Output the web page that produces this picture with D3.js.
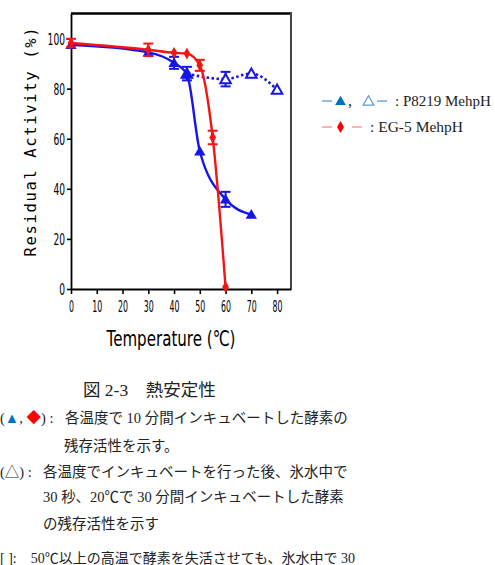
<!DOCTYPE html>
<html><head><meta charset="utf-8">
<script src="https://cdn.jsdelivr.net/npm/d3@7"></script>
<style>html,body{margin:0;padding:0;background:#fff;}svg{display:block;}</style>
</head><body>
<script>
// ---- data ----
const tempSolid = [0, 30, 40, 45, 50, 60, 70];
const actSolid  = [97.5, 94.5, 90.3, 85.8, 55, 35.8, 29.7];
const errSolid  = [0, 0, 2.4, 0, 0, 3, 0];

const tempOpen = [45, 60, 70, 80];
const actOpen  = [86, 83.8, 86, 79.6];
const errOpen  = [2.7, 2.9, 0, 0];

const tempRed = [0, 30, 40, 45, 50, 55, 60];
const actRed  = [98.2, 95.5, 94.3, 94, 89.3, 60.5, 0.8];
const errRed  = [1.7, 2.5, 0, 0, 2.2, 2.7, 0];

const xTicks = [0, 10, 20, 30, 40, 50, 60, 70, 80];
const yTicks = [0, 20, 40, 60, 80, 100];

const W = 495, H = 565;
const svg = d3.select("body").append("svg").attr("width", W).attr("height", H);

const x = d3.scaleLinear().domain([0, 85.4]).range([71, 291]);
const y = d3.scaleLinear().domain([0, 110]).range([289, 13.5]);

const BLUE = "#1616e6", RED = "#f41414";

// frame top & right
svg.append("line").attr("x1", x(0)).attr("x2", x(85.4)+1).attr("y1", 13.5).attr("y2", 13.5)
  .attr("stroke", "#000").attr("stroke-width", 2.5);
svg.append("line").attr("x1", x(85.4)).attr("x2", x(85.4)).attr("y1", 13).attr("y2", 289)
  .attr("stroke", "#444").attr("stroke-width", 2);

// axes
const gx = svg.append("g").attr("transform", `translate(0,${y(0)})`)
  .call(d3.axisBottom(x).tickValues(xTicks).tickSize(5).tickSizeOuter(0).tickFormat(d3.format("d")));
gx.select(".domain").attr("stroke-width", 2.2);
gx.selectAll(".tick line").attr("stroke-width", 1.6);
gx.selectAll("text").attr("y", 23).attr("dy", null)
  .attr("font-family", "DejaVu Sans").attr("font-size", 15.5).attr("fill", "#000")
  .attr("textLength", function(){ return this.textContent.length * 5; })
  .attr("lengthAdjust", "spacingAndGlyphs");

const gy = svg.append("g").attr("transform", `translate(${x(0)},0)`)
  .call(d3.axisLeft(y).tickValues(yTicks).tickSize(4).tickSizeOuter(0).tickFormat(d3.format("d")));
gy.select(".domain").attr("stroke-width", 1.8);
gy.selectAll(".tick line").attr("stroke-width", 1.6);
gy.selectAll("text").attr("x", -6).attr("dy", "0.36em")
  .attr("font-family", "DejaVu Sans").attr("font-size", 15.5).attr("fill", "#000")
  .attr("textLength", function(){ return this.textContent.length * 5.8; })
  .attr("lengthAdjust", "spacingAndGlyphs");

// axis titles
svg.append("text").attr("x", 171).attr("y", 346).attr("text-anchor", "middle")
  .attr("font-family", "DejaVu Sans").attr("font-size", 21.5)
  .attr("textLength", 129).attr("lengthAdjust", "spacingAndGlyphs")
  .text("Temperature (℃)");
svg.append("text").attr("transform", "translate(36,142) rotate(-90)").attr("text-anchor", "middle")
  .attr("font-family", "DejaVu Sans Mono").attr("font-size", 15.5)
  .attr("textLength", 229).attr("lengthAdjust", "spacing")
  .text("Residual Activity (%)");

// lines
const line = d3.line().x(d => x(d[0])).y(d => y(d[1])).curve(d3.curveMonotoneX);
const solidData = tempSolid.map((t, i) => [t, actSolid[i]]);
const openData  = tempOpen.map((t, i) => [t, actOpen[i]]);
const redData   = tempRed.map((t, i) => [t, actRed[i]]);

svg.append("path").datum(openData).attr("d", line).attr("fill", "none")
  .attr("stroke", BLUE).attr("stroke-width", 2.6).attr("stroke-dasharray", "2.5,2.5");
svg.append("path").datum(solidData).attr("d", line).attr("fill", "none")
  .attr("stroke", BLUE).attr("stroke-width", 2.4);

function errBars(temps, vals, errs, color) {
  const g = svg.append("g").attr("stroke", color).attr("stroke-width", 2).attr("fill", "none");
  temps.forEach((t, i) => {
    if (!errs[i]) return;
    const cx = x(t), y1 = y(vals[i] + errs[i]), y2 = y(vals[i] - errs[i]);
    g.append("line").attr("x1", cx).attr("x2", cx).attr("y1", y1).attr("y2", y2);
    g.append("line").attr("x1", cx - 5).attr("x2", cx + 5).attr("y1", y1).attr("y2", y1);
    g.append("line").attr("x1", cx - 5).attr("x2", cx + 5).attr("y1", y2).attr("y2", y2);
  });
}
errBars(tempSolid, actSolid, errSolid, BLUE);
errBars(tempOpen, actOpen, errOpen, BLUE);

const tri = d3.symbol().type(d3.symbolTriangle);
svg.selectAll(".open").data(openData).join("path")
  .attr("transform", d => `translate(${x(d[0])},${y(d[1])+1})`)
  .attr("d", tri.size(48)).attr("fill", "#fff").attr("stroke", BLUE).attr("stroke-width", 2);
svg.selectAll(".solid").data(solidData).join("path")
  .attr("transform", d => `translate(${x(d[0])},${y(d[1])+1})`)
  .attr("d", tri.size(55)).attr("fill", BLUE);

// red
svg.append("path").datum(redData).attr("d", line).attr("fill", "none")
  .attr("stroke", RED).attr("stroke-width", 2.4);
errBars(tempRed, actRed, errRed, RED);
svg.selectAll(".red").data(redData).join("path")
  .attr("transform", d => `translate(${x(d[0])},${y(d[1])})`)
  .attr("d", d3.symbol().type(d3.symbolDiamond).size(40)).attr("fill", RED);

// legend
const LF = "'Liberation Serif', 'Noto Sans CJK JP', serif";
const lg = svg.append("g").attr("fill", "#222");
lg.append("line").attr("x1", 322).attr("x2", 332).attr("y1", 101).attr("y2", 101).attr("stroke", "#5b9bd5").attr("stroke-width", 1.3);
lg.append("path").attr("transform", "translate(340.5,102)").attr("d", d3.symbol().type(d3.symbolTriangle).size(50)).attr("fill", "#0070c0");
lg.append("text").attr("x", 348).attr("y", 106).attr("font-family", LF).attr("font-size", 16).text(",");
lg.append("path").attr("transform", "translate(368.5,102)").attr("d", d3.symbol().type(d3.symbolTriangle).size(50)).attr("fill", "#fff").attr("stroke", "#5b9bd5").attr("stroke-width", 1.2);
lg.append("line").attr("x1", 377).attr("x2", 387).attr("y1", 101).attr("y2", 101).attr("stroke", "#5b9bd5").attr("stroke-width", 1.3);
lg.append("text").attr("x", 395).attr("y", 106).attr("font-family", LF).attr("font-size", 15).text(":  P8219 MehpH");
lg.append("line").attr("x1", 322).attr("x2", 332).attr("y1", 127).attr("y2", 127).attr("stroke", "#ff8a8a").attr("stroke-width", 1.3);
lg.append("path").attr("transform", "translate(340.5,127)").attr("d", d3.symbol().type(d3.symbolDiamond).size(42)).attr("fill", "#ff0000");
lg.append("line").attr("x1", 352).attr("x2", 362).attr("y1", 127).attr("y2", 127).attr("stroke", "#ff8a8a").attr("stroke-width", 1.3);
lg.append("text").attr("x", 370).attr("y", 132).attr("font-family", LF).attr("font-size", 15.5).text(":  EG-5 MehpH");

// caption
const cap = svg.append("g").attr("font-family", LF).attr("fill", "#222");
cap.append("text").attr("x", 83).attr("y", 396).attr("font-size", 17.5).text("図 2-3　熱安定性");
const l1 = cap.append("text").attr("y", 423).attr("font-size", 14.5);
l1.append("tspan").attr("x", 0).text("(");
l1.append("tspan").attr("fill", "#0070c0").text("▲");
l1.append("tspan").text(",  ");
l1.append("tspan").attr("fill", "#ff0000").text("◆");
l1.append("tspan").text(") :");
l1.append("tspan").attr("x", 65).text("各温度で 10 分間インキュベートした酵素の");
cap.append("text").attr("x", 64).attr("y", 451).attr("font-size", 14.5).text("残存活性を示す。");
const l3 = cap.append("text").attr("y", 477).attr("font-size", 14.5);
l3.append("tspan").attr("x", 0).text("(△)  :");
l3.append("tspan").attr("x", 43).text("各温度でインキュベートを行った後、氷水中で");
cap.append("text").attr("x", 43).attr("y", 502).attr("font-size", 14.5).text("30 秒、20℃で 30  分間インキュベートした酵素");
cap.append("text").attr("x", 43).attr("y", 529).attr("font-size", 14.5).text("の残存活性を示す");
cap.append("text").attr("x", 0).attr("y", 563).attr("font-size", 14).text("[ ]:　50℃以上の高温で酵素を失活させても、氷水中で 30");
</script>
</body></html>
